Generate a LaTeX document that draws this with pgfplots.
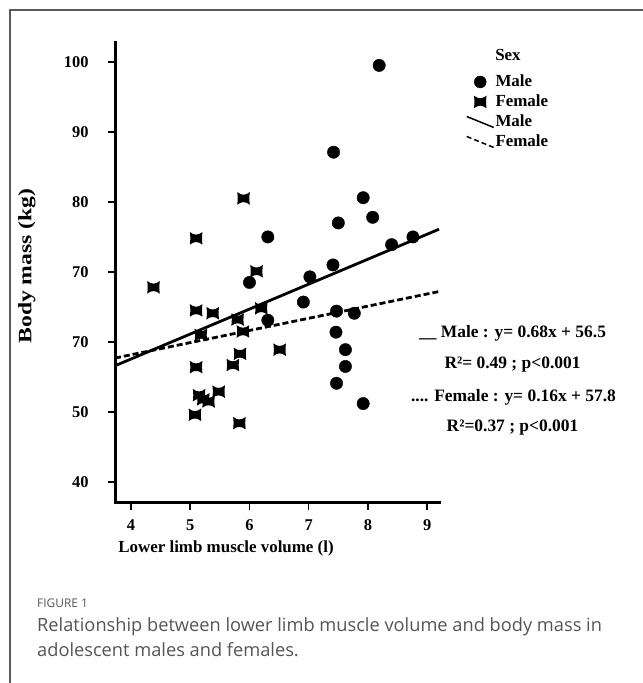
\documentclass[border=0pt]{standalone}
\usepackage{fontspec}
\setmainfont{Liberation Serif}
\newfontfamily\capfont{Open Sans}
\usepackage{pgfplots}
\pgfplotsset{compat=1.18}
\definecolor{capgray}{RGB}{85,85,85}
\pgfdeclareplotmark{bowtie}{%
 \pgfpathmoveto{\pgfqpoint{-\pgfplotmarksize}{\pgfplotmarksize}}%
 \pgfpathcurveto{\pgfqpoint{-0.3\pgfplotmarksize}{0.45\pgfplotmarksize}}{\pgfqpoint{0.3\pgfplotmarksize}{0.45\pgfplotmarksize}}{\pgfqpoint{\pgfplotmarksize}{\pgfplotmarksize}}%
 \pgfpathcurveto{\pgfqpoint{0.9\pgfplotmarksize}{0.3\pgfplotmarksize}}{\pgfqpoint{0.9\pgfplotmarksize}{-0.3\pgfplotmarksize}}{\pgfqpoint{\pgfplotmarksize}{-\pgfplotmarksize}}%
 \pgfpathcurveto{\pgfqpoint{0.3\pgfplotmarksize}{-0.45\pgfplotmarksize}}{\pgfqpoint{-0.3\pgfplotmarksize}{-0.45\pgfplotmarksize}}{\pgfqpoint{-\pgfplotmarksize}{-\pgfplotmarksize}}%
 \pgfpathcurveto{\pgfqpoint{-0.9\pgfplotmarksize}{-0.3\pgfplotmarksize}}{\pgfqpoint{-0.9\pgfplotmarksize}{0.3\pgfplotmarksize}}{\pgfqpoint{-\pgfplotmarksize}{\pgfplotmarksize}}%
 \pgfpathclose
 \pgfusepathqfill}
\begin{document}
\begin{tikzpicture}[x=1bp,y=1bp]
\path[use as bounding box] (0,0) rectangle (643,683);
\draw[black!65, line width=1.2bp] (10,0) -- (10,673) -- (643,673);
\begin{axis}[
 at={(115bp,180bp)}, anchor=south west,
 scale only axis, width=324bp, height=460bp,
 xmin=3.73, xmax=9.2, ymin=37, ymax=102.7,
 axis lines=left, axis line style={-, line width=3bp, line cap=rect},
 tick align=outside, major tick length=7bp,
 tick style={line width=1.5bp, black},
 xtick={4,5,6,7,8,9}, xticklabels={4,5,6,7,8,9},
 ytick={40,50,60,70,80,90,100}, yticklabels={40,50,70,70,80,90,100},
 ticklabel style={font=\bfseries\fontsize{16.5}{16.5}\selectfont},
 yticklabel style={xshift=-16bp},
 xticklabel style={yshift=-6bp},
 clip=false,
 legend style={at={(1.0833,0.9337)}, anchor=north west, draw=none, fill=none,
   inner sep=0pt, outer sep=0pt, row sep=3bp, column sep=0bp,
   font=\bfseries\fontsize{17}{17}\selectfont,
   nodes={text height=12bp, text depth=3bp, inner sep=1bp}},
 legend cell align=left,
]
\addplot[only marks, mark=*, mark size=6.2bp, black, forget plot] coordinates {
 (8.19,99.5) (7.42,87.1) (7.92,80.6) (8.08,77.8) (7.50,77.0) (6.31,75.0)
 (8.40,73.9) (8.76,75.0) (7.41,71.0) (7.02,69.3) (6.00,68.5) (6.91,65.7)
 (7.47,64.4) (7.77,64.1) (6.31,63.1) (7.46,61.4) (7.62,58.9) (7.62,56.5)
 (7.47,54.1) (7.92,51.2)};
\addplot[only marks, mark=bowtie, mark size=6.3bp, black, forget plot] coordinates {
 (5.90,80.5) (5.10,74.8) (6.12,70.1) (4.38,67.8) (5.10,64.5) (5.38,64.1)
 (5.80,63.2) (5.18,61.0) (5.89,61.5) (6.20,64.8) (6.51,58.9) (5.84,58.3)
 (5.10,56.4) (5.72,56.7) (5.15,52.4) (5.22,51.8) (5.31,51.5) (5.48,52.9)
 (5.08,49.6) (5.83,48.4)};
\addplot[black, line width=2.8bp, forget plot] coordinates {(3.73,56.6) (9.2,76.1)};
\addplot[black, line width=2.8bp, dash pattern=on 6bp off 3bp, forget plot] coordinates {(3.73,57.7) (9.2,67.2)};
\addlegendimage{legend image code/.code={\path[fill=black,draw=black,mark=*,mark size=6bp] plot coordinates {(13.5bp,0bp)};}}
\addlegendentry{Male}
\addlegendimage{legend image code/.code={\path[fill=black,draw=none,mark=bowtie,mark size=6.3bp] plot coordinates {(13.5bp,0bp)};}}
\addlegendentry{Female}
\addlegendimage{legend image code/.code={\draw[black,line width=1.5bp] (0bp,5.5bp) -- (27bp,-5.5bp);}}
\addlegendentry{Male}
\addlegendimage{legend image code/.code={\draw[black,line width=1.5bp,dash pattern=on 5bp off 3bp] (0bp,5.5bp) -- (27bp,-5.5bp);}}
\addlegendentry{Female}
\end{axis}
\node[font=\bfseries\fontsize{17}{17}\selectfont] at (508,628) {Sex};
\node[font=\bfseries\fontsize{17}{17}\selectfont] at (226,135) {Lower limb muscle volume (l)};
\node[font=\bfseries\fontsize{19}{19}\selectfont, rotate=90, xscale=1.25] at (27,417) {Body mass (kg)};
\begin{scope}[every node/.style={font=\bfseries\fontsize{17.5}{17.5}\selectfont}]
\node at (512.5,350) {\_\_ Male : y= 0.68x + 56.5};
\node at (512.5,318) {R²= 0.49 ; p<0.001};
\node at (513.5,286) {.... Female : y= 0.16x + 57.8};
\node at (512.5,255) {R²=0.37 ; p<0.001};
\end{scope}
\node[anchor=west, inner sep=0pt, text=capgray, font=\capfont\fontsize{12}{12}\selectfont] at (37,80) {FIGURE 1};
\node[anchor=west, inner sep=0pt, text=capgray, font=\capfont\fontsize{18.3}{18.3}\selectfont] at (37,56) {Relationship between lower limb muscle volume and body mass in};
\node[anchor=west, inner sep=0pt, text=capgray, font=\capfont\fontsize{18.3}{18.3}\selectfont] at (37,33) {adolescent males and females.};
\end{tikzpicture}
\end{document}
